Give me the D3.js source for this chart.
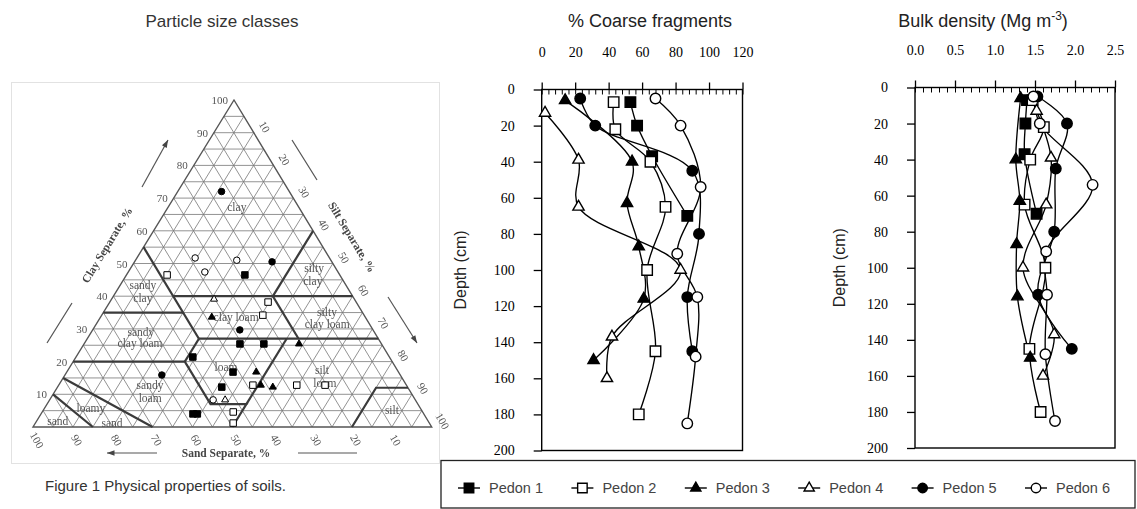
<!DOCTYPE html>
<html><head><meta charset="utf-8">
<script src="https://cdn.jsdelivr.net/npm/d3@7/dist/d3.min.js"></script>
<style>
html,body{margin:0;padding:0;background:#fff;}
svg{display:block;}
</style></head><body>
<svg id="fig" width="1137" height="509" xmlns="http://www.w3.org/2000/svg">
  <defs><filter id="soft" x="-5%" y="-5%" width="110%" height="110%"><feGaussianBlur stdDeviation="0.45"/></filter></defs>
</svg>
<script>
// ---------------- DATA ----------------
const pedonNames   = ["Pedon 1","Pedon 2","Pedon 3","Pedon 4","Pedon 5","Pedon 6"];
const pedonMarkers = ["square-filled","square-open","triangle-filled","triangle-open","circle-filled","circle-open"];

const depthTicks  = [0,20,40,60,80,100,120,140,160,180,200];
const coarseTicks = [0,20,40,60,80,100,120];
const bulkTicks   = [0.0,0.5,1.0,1.5,2.0,2.5];

// sampling depths (cm) per pedon
const depthP1 = [7,20,37,70];
const depthP2 = [7,22,40,65,100,145,180];
const depthP3 = [6,40,63,87,116,150];
const depthP4 = [13,39,65,100,137,160];
const depthP5 = [5,20,45,80,115,145];
const depthP6 = [5,20,54,91,115,148,185];

// % coarse fragments
const coarseP1 = [53,57,66,87];
const coarseP2 = [43,44,65,74,63,68,58];
const coarseP3 = [14,54,51,58,61,31];
const coarseP4 = [2,22,22,83,42,39];
const coarseP5 = [23,32,90,94,87,90];
const coarseP6 = [68,83,95,81,93,92,87];

// bulk density (Mg m-3)
const bulkP1 = [1.40,1.38,1.37,1.52];
const bulkP2 = [1.47,1.61,1.44,1.37,1.63,1.43,1.57];
const bulkP3 = [1.32,1.26,1.31,1.27,1.28,1.44];
const bulkP4 = [1.52,1.70,1.64,1.35,1.74,1.60];
const bulkP5 = [1.53,1.90,1.76,1.74,1.54,1.96];
const bulkP6 = [1.48,1.56,2.22,1.64,1.65,1.63,1.75];

// texture triangle
const triTicks = [10,20,30,40,50,60,70,80,90,100];
const sampleClay   = [72,51.7,51,50.5,46.5,46.5,47.4,38.2,39.1,33.6,29.7,34.2,21.4,25.4,25.4,25.4,16.8,16.8,12.8,12.8,12.2,12.8,12.8,15.9,12.2,8.3,8.3,4,4,4.6,1.2];
const sampleSilt   = [11,14.6,25.4,34.5,29.7,10.2,19.2,39.7,25.7,27.9,36.9,40.4,29.3,39.1,45.1,53.9,47.5,41.7,48.7,50.7,54.0,59.7,66.8,24.3,41.2,41,44,38.1,39.2,47.9,49.6];
const sampleMarker = ["circle-filled","circle-open","circle-open","circle-filled","square-filled","square-open","circle-open","square-open","triangle-open","triangle-filled","circle-filled","square-open","square-filled","square-filled","square-filled","triangle-filled","triangle-filled","square-filled","square-open","triangle-filled","triangle-filled","square-open","square-open","circle-filled","square-filled","circle-open","triangle-open","square-filled","square-filled","square-open","square-open"];

const classText = ["clay","silty","clay","sandy","clay","clay loam","silty","clay loam","sandy","clay loam","loam","silt","loam","sandy","loam","loamy","sand","sand","silt"];
const classClay = [67.3,48.6,44.6,43.4,39.4,33.6,35.2,31.5,29.1,25.7,18.3,17.4,13.5,12.8,8.9,5.8,1.2,1.8,5.2];
const classSilt = [17.2,46,47.7,5.7,7.7,34,56,57.9,12.4,13.9,39.2,63.7,66.4,22.9,24.9,11.6,19.2,5.3,87.4];

// USDA class boundaries as [sand, clay] vertices
const boundaries = [
  [[85,0],[90,10]],
  [[70,0],[85,15]],
  [[80,20],[52,20],[52,7],[43,7],[50,0]],
  [[65,35],[45,35]],
  [[45,55],[45,27]],
  [[52,20],[45,27]],
  [[45,27],[0,27]],
  [[45,40],[0,40]],
  [[20,40],[20,27]],
  [[20,40],[0,60]],
  [[23,27],[43,7]],
  [[20,0],[8,12],[0,12]]
];

// ---------------- DRAW ----------------
const svg = d3.select("#fig");
const SERIF = "'Liberation Serif','Times New Roman',serif";
const SANS  = "'Liberation Sans',Arial,Helvetica,sans-serif";

function drawMarker(g, type, x, y, s, sw) {
  const [shape, fill] = type.split("-");
  const sym = shape === "square" ? d3.symbolSquare : shape === "triangle" ? d3.symbolTriangle : d3.symbolCircle;
  const area = shape === "square" ? s * s : shape === "triangle" ? s * s * 0.5 : Math.PI * s * s / 4;
  g.append("path")
    .attr("d", d3.symbol(sym, area)())
    .attr("transform", `translate(${x},${y})`)
    .attr("fill", fill === "filled" ? "#000" : "#fff")
    .attr("stroke", "#000").attr("stroke-width", sw);
}

function panel(cfg) {
  const x = d3.scaleLinear().domain(cfg.xDomain).range(cfg.xRange);
  const y = d3.scaleLinear().domain([0, 200]).range(cfg.yRange);
  const g = svg.append("g");
  const top = cfg.yRange[0], bot = cfg.yRange[1];

  // minor ticks (inside)
  const minor = d3.range(cfg.xDomain[0], cfg.xDomain[1] + 1e-9, cfg.minorStep);
  g.append("g").attr("transform", `translate(0,${top})`)
    .call(d3.axisBottom(x).tickValues(minor).tickSize(5).tickSizeOuter(0).tickFormat(""))
    .call(a => a.select(".domain").remove())
    .selectAll("line").attr("stroke", "#000").attr("stroke-width", 1);

  // major ticks (outside) + labels
  const ax = g.append("g").attr("transform", `translate(0,${top})`)
    .call(d3.axisTop(x).tickValues(cfg.ticks).tickSize(7).tickSizeOuter(0).tickPadding(26).tickFormat(cfg.fmt));
  ax.select(".domain").remove();
  ax.selectAll("line").attr("stroke", "#000").attr("stroke-width", 1.3);
  ax.selectAll("text").attr("font-family", SERIF).attr("font-size", 14).attr("fill", "#000");

  const ay = g.append("g").attr("transform", `translate(${cfg.xRange[0]},0)`)
    .call(d3.axisLeft(y).tickValues(depthTicks).tickSize(8).tickSizeOuter(0).tickPadding(19));
  ay.select(".domain").remove();
  ay.selectAll("line").attr("stroke", "#000").attr("stroke-width", 1.3);
  ay.selectAll("text").attr("font-family", SERIF).attr("font-size", 14).attr("fill", "#000");

  g.append("rect").attr("x", cfg.xRange[0]).attr("y", top)
    .attr("width", cfg.xRange[1] - cfg.xRange[0]).attr("height", bot - top)
    .attr("fill", "none").attr("stroke", "#000").attr("stroke-width", 1.4);

  // axis titles
  const tt = g.append("text").attr("x", (cfg.xRange[0] + cfg.xRange[1]) / 2 + cfg.titleDx).attr("y", 27)
    .attr("text-anchor", "middle").attr("font-family", SANS).attr("font-size", 18).attr("fill", "#222");
  tt.append("tspan").text(cfg.title);
  if (cfg.sup) {
    tt.append("tspan").attr("font-size", 12).attr("dy", -7).text(cfg.sup);
    tt.append("tspan").attr("dy", 7).text(")");
  }
  g.append("text").attr("transform", `translate(${cfg.xRange[0] - cfg.yTitleOff},${(top + bot) / 2}) rotate(-90)`)
    .attr("text-anchor", "middle").attr("font-family", SANS).attr("font-size", 16).attr("fill", "#222")
    .text("Depth (cm)");

  // series
  const line = d3.line().x(d => x(d.v)).y(d => y(d.d)).curve(d3.curveCatmullRom.alpha(0.5));
  cfg.series.forEach((s, i) => {
    const pts = s.depth.map((d, j) => ({ d, v: s.vals[j] }));
    g.append("path").attr("d", line(pts)).attr("fill", "none").attr("stroke", "#000").attr("stroke-width", 1.35);
  });
  cfg.series.forEach((s, i) => {
    s.depth.forEach((d, j) => drawMarker(g, pedonMarkers[i], x(s.vals[j]), y(d), 10.5, 1.4));
  });
}

const depths = [depthP1, depthP2, depthP3, depthP4, depthP5, depthP6];
panel({
  xDomain: [0, 120], xRange: [541.7, 742.5], yRange: [89.5, 450.5], ticks: coarseTicks, minorStep: 4,
  fmt: d3.format("d"), title: "% Coarse fragments", titleDx: 8, yTitleOff: 76,
  series: [coarseP1, coarseP2, coarseP3, coarseP4, coarseP5, coarseP6].map((v, i) => ({ depth: depths[i], vals: v }))
});
panel({
  xDomain: [0, 2.5], xRange: [915, 1115], yRange: [87.5, 448], ticks: bulkTicks, minorStep: 0.1,
  fmt: d3.format(".1f"), title: "Bulk density (Mg m", sup: "-3", titleDx: -32, yTitleOff: 70,
  series: [bulkP1, bulkP2, bulkP3, bulkP4, bulkP5, bulkP6].map((v, i) => ({ depth: depths[i], vals: v }))
});

// legend
const lg = svg.append("g");
lg.append("rect").attr("x", 441).attr("y", 460.5).attr("width", 694).attr("height", 47.5)
  .attr("fill", "none").attr("stroke", "#222").attr("stroke-width", 1.3);
const lx = d3.scalePoint().domain(pedonNames).range([469, 1036]);
pedonNames.forEach((n, i) => {
  const cx = lx(n), cy = 488;
  lg.append("line").attr("x1", cx - 11).attr("x2", cx + 11).attr("y1", cy).attr("y2", cy)
    .attr("stroke", "#000").attr("stroke-width", 1.4);
  drawMarker(lg, pedonMarkers[i], cx, cy, 9.5, 1.4);
  lg.append("text").attr("x", cx + 20).attr("y", cy + 5).attr("font-family", SANS).attr("font-size", 14.5)
    .attr("fill", "#444").text(n);
});

// ---------------- TEXTURE TRIANGLE ----------------
const tri = svg.append("g").attr("filter", "url(#soft)");
svg.insert("rect", ":first-child").attr("x", 11.5).attr("y", 82.5).attr("width", 428).attr("height", 381)
  .attr("fill", "none").attr("stroke", "#e2e2e2").attr("stroke-width", 1);

const triY = d3.scaleLinear().domain([0, 100]).range([427, 100]);
const triX = d3.scaleLinear().domain([0, 100]).range([33, 431.7]);
const apexShift = (234 - 33) / (431.7 - 33);
const tp = (silt, clay) => [triX(silt + clay * apexShift), triY(clay)];
const tpSC = (sand, clay) => tp(100 - sand - clay, clay);

const grid = d3.range(5, 100, 5);
const gl = tri.append("g").attr("stroke", "#777").attr("stroke-width", 0.8);
grid.forEach(k => {
  [[tp(0, k), tp(100 - k, k)], [tp(k, 0), tp(k, 100 - k)], [tp(100 - k, 0), tp(0, 100 - k)]].forEach(([a, b]) => {
    gl.append("line").attr("x1", a[0]).attr("y1", a[1]).attr("x2", b[0]).attr("y2", b[1]);
  });
});
tri.append("path").attr("d", d3.line()([tp(0, 0), tp(100, 0), tp(0, 100)]) + "Z")
  .attr("fill", "none").attr("stroke", "#555").attr("stroke-width", 1.4);
boundaries.forEach(b => {
  tri.append("path").attr("d", d3.line()(b.map(p => tpSC(p[0], p[1]))))
    .attr("fill", "none").attr("stroke", "#3a3a3a").attr("stroke-width", 2.2);
});

// class labels
classText.forEach((t, i) => {
  const [x, y] = tp(classSilt[i], classClay[i]);
  tri.append("text").attr("x", x).attr("y", y + 4).attr("text-anchor", "middle")
    .attr("font-family", SERIF).attr("font-size", 11.5).attr("fill", "#555").text(t);
});

// edge tick labels
triTicks.forEach(v => {
  const [cx, cy] = tp(0, v);
  tri.append("text").attr("x", cx - 6).attr("y", cy + 4).attr("text-anchor", "end")
    .attr("font-family", SERIF).attr("font-size", 11).attr("fill", "#555").text(v);
  const [sx, sy] = tp(v, 100 - v);
  tri.append("text").attr("transform", `translate(${sx + 11},${sy - 6}) rotate(60)`).attr("text-anchor", "middle")
    .attr("dy", 4).attr("font-family", SERIF).attr("font-size", 11).attr("fill", "#555").text(v);
  const [bx, by] = tp(100 - v, 0);
  tri.append("text").attr("transform", `translate(${bx + 4},${by + 13}) rotate(60)`).attr("text-anchor", "middle")
    .attr("dy", 4).attr("font-family", SERIF).attr("font-size", 11).attr("fill", "#555").text(v);
});

// axis titles with arrows
function seg(x1, y1, x2, y2, head) {
  tri.append("line").attr("x1", x1).attr("y1", y1).attr("x2", x2).attr("y2", y2)
    .attr("stroke", "#555").attr("stroke-width", 1.2);
  if (head) {
    const ang = Math.atan2(y2 - y1, x2 - x1);
    const p = [[x2, y2], [x2 - 8 * Math.cos(ang - 0.35), y2 - 8 * Math.sin(ang - 0.35)], [x2 - 8 * Math.cos(ang + 0.35), y2 - 8 * Math.sin(ang + 0.35)]];
    tri.append("path").attr("d", d3.line()(p) + "Z").attr("fill", "#444");
  }
}
tri.append("text").attr("transform", "translate(107,245) rotate(-58.5)").attr("text-anchor", "middle")
  .attr("dy", 4).attr("font-family", SERIF).attr("font-weight", "bold").attr("font-size", 11.5).attr("fill", "#444")
  .text("Clay Separate, %");
seg(47, 343, 72, 303, false); seg(142, 187, 168, 140, true);
tri.append("text").attr("transform", "translate(352,237) rotate(58.5)").attr("text-anchor", "middle")
  .attr("dy", 4).attr("font-family", SERIF).attr("font-weight", "bold").attr("font-size", 11.5).attr("fill", "#444")
  .text("Silt Separate, %");
seg(292, 140, 317, 180, false); seg(388, 297, 417, 343, true);
tri.append("text").attr("x", 226).attr("y", 457).attr("text-anchor", "middle")
  .attr("font-family", SERIF).attr("font-weight", "bold").attr("font-size", 11.5).attr("fill", "#444")
  .text("Sand Separate, %");
seg(157, 453, 107, 453, true); seg(298, 453, 357, 453, false);

// sample points
sampleClay.forEach((c, i) => {
  const [x, y] = tp(sampleSilt[i], c);
  drawMarker(tri, sampleMarker[i], x, y, 6.5, 1);
});

// titles / caption
svg.append("text").attr("x", 222).attr("y", 27).attr("text-anchor", "middle")
  .attr("font-family", SANS).attr("font-size", 17).attr("fill", "#333").text("Particle size classes");
const cap = svg.append("text").attr("x", 45).attr("y", 491).attr("font-family", SANS).attr("font-size", 15).attr("fill", "#333");
cap.append("tspan").text("Figure");
cap.append("tspan").text(" 1 Physical properties of soils.");
</script>
</body></html>
